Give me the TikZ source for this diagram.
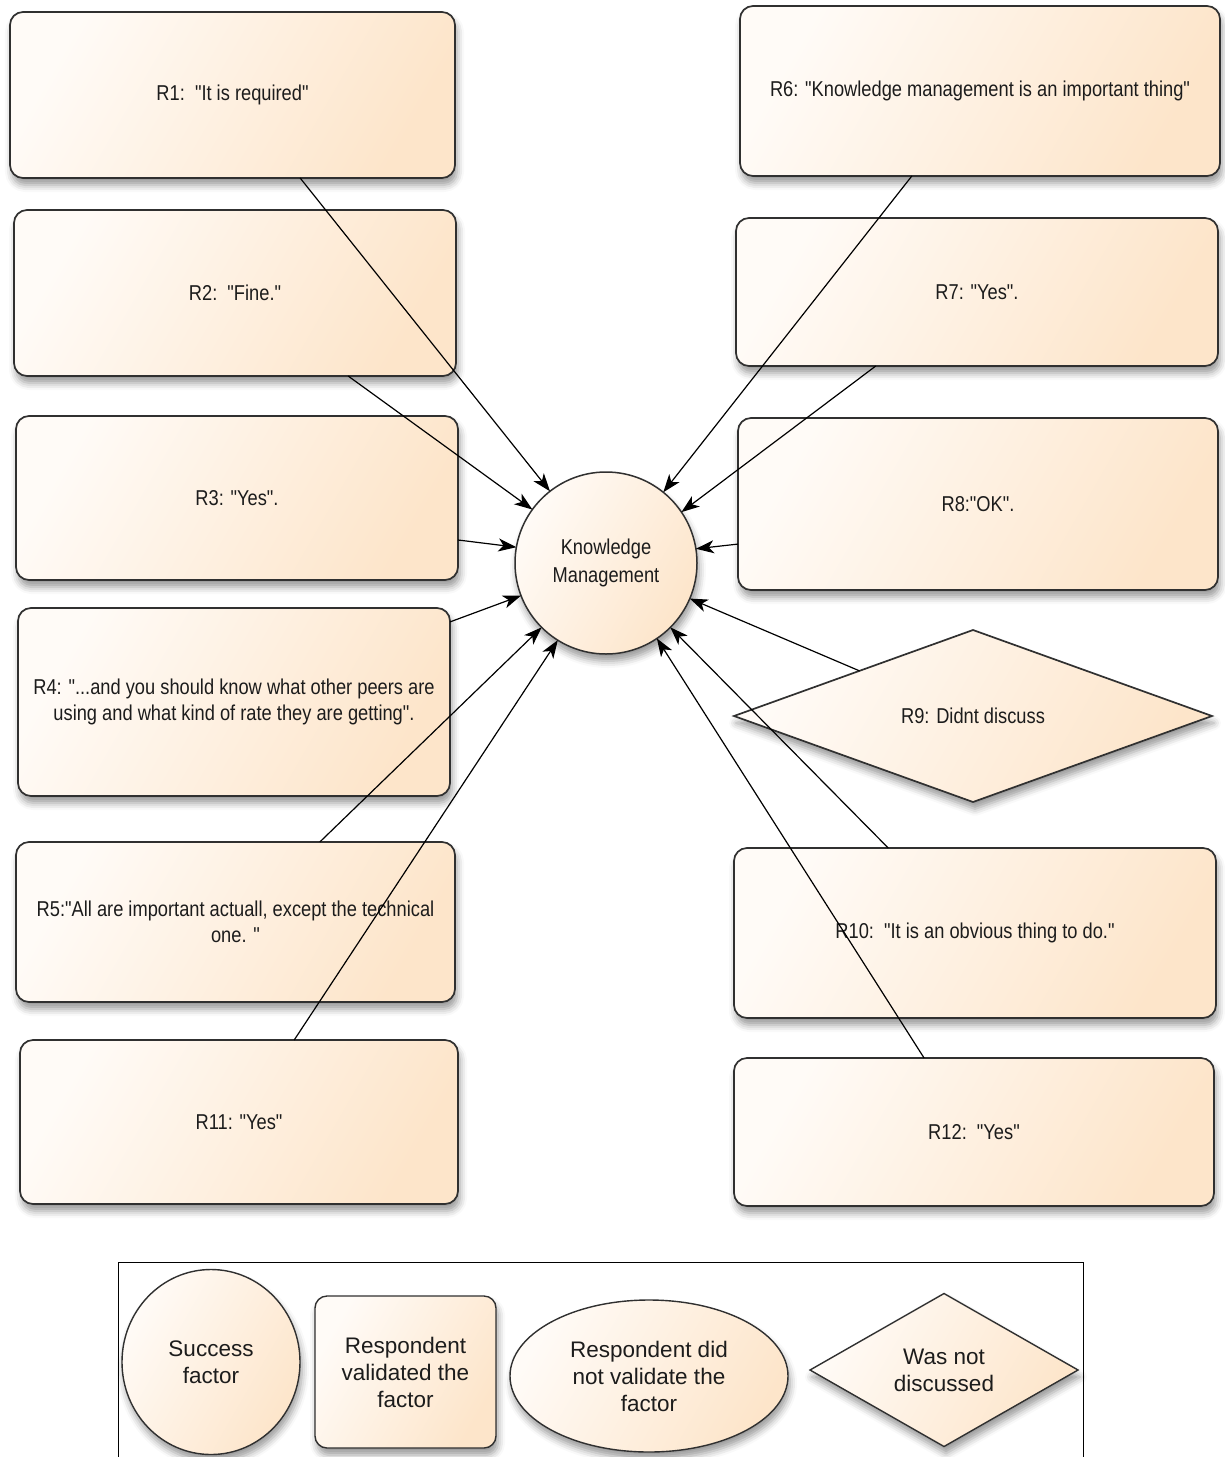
\documentclass[tikz,border=0pt]{standalone}
\usepackage{fontspec}
\setmainfont{Liberation Sans}
\newfontfamily\narrowfont[FakeStretch=0.85]{Liberation Sans}
\usetikzlibrary{arrows.meta,shapes.geometric,shadows.blur,calc}

\definecolor{peachlo}{HTML}{FFFBF7}
\definecolor{peachhi}{HTML}{FDE5CA}
\definecolor{edgegray}{HTML}{303030}
\definecolor{inkgray}{HTML}{1C1C1C}

\tikzset{
  peachfill/.style={top color=peachlo, bottom color=peachhi, shading angle=60},
  softshadow/.style={blur shadow={shadow xshift=2pt, shadow yshift=-7pt,
      shadow blur radius=7pt, shadow opacity=40}},
  shapebase/.style={peachfill, softshadow, draw=edgegray, line width=1.7pt,
      inner sep=0pt, outer sep=0pt, text=inkgray, align=center},
  answer/.style={shapebase, rectangle, rounded corners=13pt,
      font=\narrowfont\fontsize{21.5}{26}\selectfont},
  skipped/.style={shapebase, diamond, font=\narrowfont\fontsize{21.5}{26}\selectfont},
  factor/.style={shapebase, circle, line width=1.5pt,
      font=\narrowfont\fontsize{21.5}{28}\selectfont},
  keyshape/.style={shapebase, line width=1.4pt, font=\fontsize{22.5}{27}\selectfont},
  conn/.style={draw=black, line width=1.2pt,
      -{Stealth[length=18pt,width=13pt,inset=5pt]}},
}

\begin{document}
\begin{tikzpicture}[x=1pt,y=-1pt]
\useasboundingbox (0,0) rectangle (1224,1457);

% central success factor
\node[factor, minimum size=182pt] (km) at (606,563) {Knowledge\\Management};

% left column of respondents
\node[answer, minimum width=445pt, minimum height=166pt] (r1) at (232.5,95) {R1:\ \ "It is required"};
\node[answer, minimum width=442pt, minimum height=166pt] (r2) at (235,293) {R2:\ \ "Fine."};
\node[answer, minimum width=442pt, minimum height=164pt] (r3) at (237,498) {R3: "Yes".};
\node[answer, minimum width=432pt, minimum height=188pt] (r4) at (234,702)
  {R4: "...and you should know what other peers are\\using and what kind of rate they are getting".};
\node[answer, minimum width=439pt, minimum height=160pt] (r5) at (235.5,922)
  {R5:"All are important actuall, except the technical\\one. "};
\node[answer, minimum width=438pt, minimum height=164pt] (r11) at (239,1122) {R11: "Yes"};

% right column of respondents
\node[answer, minimum width=480pt, minimum height=170pt] (r6) at (980,91)
  {R6: "Knowledge management is an important thing"};
\node[answer, minimum width=482pt, minimum height=148pt] (r7) at (977,292) {R7: "Yes".};
\node[answer, minimum width=480pt, minimum height=172pt] (r8) at (978,504) {R8:"OK".};
\node[skipped, minimum width=478pt, minimum height=172pt] (r9) at (973,716) {R9: Didnt discuss};
\node[answer, minimum width=482pt, minimum height=170pt] (r10) at (975,933)
  {R10:\ \ "It is an obvious thing to do."};
\node[answer, minimum width=480pt, minimum height=148pt] (r12) at (974,1132) {R12:\ \ "Yes"};

% where each connector leaves its respondent
\coordinate (a1) at ($(r1.south west)!0.652!(r1.south east)$);
\coordinate (a2) at ($(r2.south west)!0.756!(r2.south east)$);
\coordinate (a3) at ($(r3.north east)!0.756!(r3.south east)$);
\coordinate (a4) at ($(r4.north east)!0.074!(r4.south east)$);
\coordinate (a5) at ($(r5.north west)!0.692!(r5.north east)$);
\coordinate (a11) at ($(r11.north west)!0.626!(r11.north east)$);
\coordinate (a6) at ($(r6.south west)!0.358!(r6.south east)$);
\coordinate (a7) at ($(r7.south west)!0.290!(r7.south east)$);
\coordinate (a8) at ($(r8.north west)!0.733!(r8.south west)$);
\coordinate (a9) at ($(r9.west)!0.525!(r9.north)$);
\coordinate (a10) at ($(r10.north west)!0.320!(r10.north east)$);
\coordinate (a12) at ($(r12.north west)!0.396!(r12.north east)$);

\foreach \src/\ang in {a1/128, a2/144, a3/170, a4/201, a5/225, a11/238,
                       a6/51, a7/34.5, a8/9, a9/337.5, a10/315, a12/304}
  \draw[conn] (\src) -- (km.\ang);

% legend
\draw[black, line width=1pt] (118,1460) -- (118,1262) -- (1083,1262) -- (1083,1460);
\node[keyshape, ellipse, minimum width=178pt, minimum height=185pt] (k1) at (211,1362) {Success\\factor};
\node[keyshape, rectangle, rounded corners=12pt, minimum width=181pt, minimum height=152pt] (k2) at (405.5,1372)
  {Respondent\\validated the\\factor};
\node[keyshape, ellipse, minimum width=278pt, minimum height=152pt] (k3) at (649,1376)
  {Respondent did\\not validate the\\factor};
\node[keyshape, diamond, minimum width=268pt, minimum height=153pt] (k4) at (944,1370) {Was not\\discussed};
\end{tikzpicture}
\end{document}
